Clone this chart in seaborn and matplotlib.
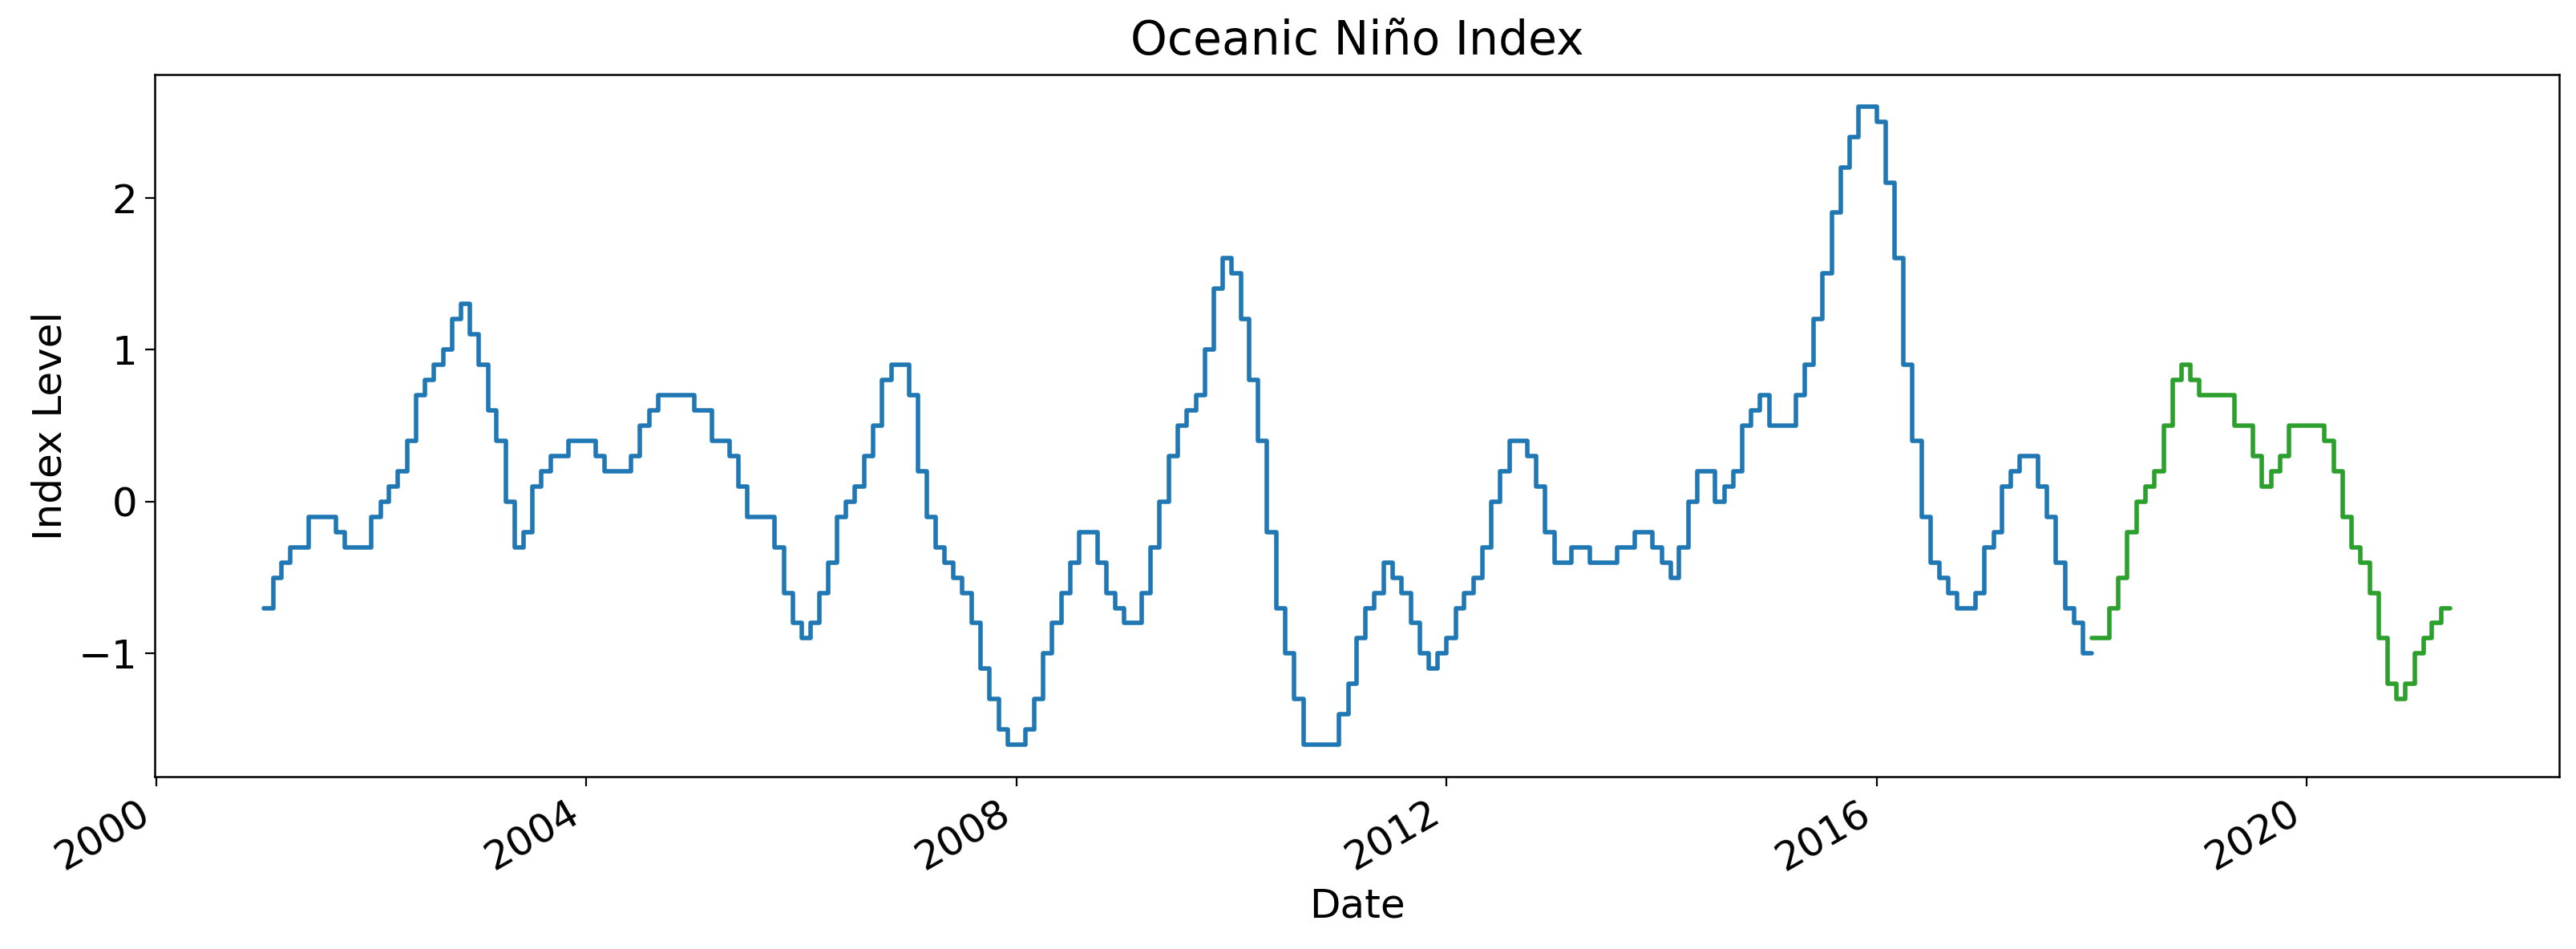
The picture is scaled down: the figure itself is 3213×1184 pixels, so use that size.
import matplotlib
matplotlib.use("Agg")
import matplotlib.pyplot as plt
import matplotlib.dates as mdates
from matplotlib.ticker import MultipleLocator
import pandas as pd
import seaborn as sns

# ---- data (monthly Oceanic Niño Index) ----
first_month = "2001-01-01"

oni_historical = [
    -0.7, -0.5, -0.4, -0.3, -0.3, -0.1, -0.1, -0.1, -0.2, -0.3, -0.3, -0.3,  # 2001
    -0.1, 0.0, 0.1, 0.2, 0.4, 0.7, 0.8, 0.9, 1.0, 1.2, 1.3, 1.1,            # 2002
    0.9, 0.6, 0.4, 0.0, -0.3, -0.2, 0.1, 0.2, 0.3, 0.3, 0.4, 0.4,           # 2003
    0.4, 0.3, 0.2, 0.2, 0.2, 0.3, 0.5, 0.6, 0.7, 0.7, 0.7, 0.7,             # 2004
    0.6, 0.6, 0.4, 0.4, 0.3, 0.1, -0.1, -0.1, -0.1, -0.3, -0.6, -0.8,       # 2005
    -0.9, -0.8, -0.6, -0.4, -0.1, 0.0, 0.1, 0.3, 0.5, 0.8, 0.9, 0.9,        # 2006
    0.7, 0.2, -0.1, -0.3, -0.4, -0.5, -0.6, -0.8, -1.1, -1.3, -1.5, -1.6,   # 2007
    -1.6, -1.5, -1.3, -1.0, -0.8, -0.6, -0.4, -0.2, -0.2, -0.4, -0.6, -0.7, # 2008
    -0.8, -0.8, -0.6, -0.3, 0.0, 0.3, 0.5, 0.6, 0.7, 1.0, 1.4, 1.6,         # 2009
    1.5, 1.2, 0.8, 0.4, -0.2, -0.7, -1.0, -1.3, -1.6, -1.6, -1.6, -1.6,     # 2010
    -1.4, -1.2, -0.9, -0.7, -0.6, -0.4, -0.5, -0.6, -0.8, -1.0, -1.1, -1.0, # 2011
    -0.9, -0.7, -0.6, -0.5, -0.3, 0.0, 0.2, 0.4, 0.4, 0.3, 0.1, -0.2,       # 2012
    -0.4, -0.4, -0.3, -0.3, -0.4, -0.4, -0.4, -0.3, -0.3, -0.2, -0.2, -0.3, # 2013
    -0.4, -0.5, -0.3, 0.0, 0.2, 0.2, 0.0, 0.1, 0.2, 0.5, 0.6, 0.7,          # 2014
    0.5, 0.5, 0.5, 0.7, 0.9, 1.2, 1.5, 1.9, 2.2, 2.4, 2.6, 2.6,             # 2015
    2.5, 2.1, 1.6, 0.9, 0.4, -0.1, -0.4, -0.5, -0.6, -0.7, -0.7, -0.6,      # 2016
    -0.3, -0.2, 0.1, 0.2, 0.3, 0.3, 0.1, -0.1, -0.4, -0.7, -0.8, -1.0,      # 2017
]

oni_recent = [
    -0.9, -0.9, -0.7, -0.5, -0.2, 0.0, 0.1, 0.2, 0.5, 0.8, 0.9, 0.8,        # 2018
    0.7, 0.7, 0.7, 0.7, 0.5, 0.5, 0.3, 0.1, 0.2, 0.3, 0.5, 0.5,             # 2019
    0.5, 0.5, 0.4, 0.2, -0.1, -0.3, -0.4, -0.6, -0.9, -1.2, -1.3, -1.2,     # 2020
    -1.0, -0.9, -0.8, -0.7,                                                 # 2021
]

title_text = "Oceanic Niño Index"
x_label = "Date"
y_label = "Index Level"
color_historical = "#1f77b4"
color_recent = "#2ca02c"

# ---- build frames (each step is held for its month) ----
n_hist = len(oni_historical)
n_rec = len(oni_recent)
dates = pd.date_range(first_month, periods=n_hist + n_rec + 1, freq="MS")

hist_df = pd.DataFrame({
    "Date": dates[: n_hist + 1],
    "Index Level": oni_historical + [oni_historical[-1]],
})
rec_df = pd.DataFrame({
    "Date": dates[n_hist:],
    "Index Level": oni_recent + [oni_recent[-1]],
})

# ---- style ----
sns.set_style("ticks")
plt.rcParams["font.family"] = ["DejaVu Sans"]
plt.rcParams.update({
    "axes.edgecolor": "black",
    "axes.linewidth": 0.9,
    "xtick.color": "black",
    "ytick.color": "black",
    "xtick.major.size": 4.3,
    "ytick.major.size": 4.3,
    "xtick.major.width": 0.8,
    "ytick.major.width": 0.8,
    "text.color": "black",
    "axes.labelcolor": "black",
})

DPI = 200
fig, ax = plt.subplots(figsize=(3213 / DPI, 1184 / DPI), dpi=DPI)

sns.lineplot(data=hist_df, x="Date", y="Index Level", ax=ax,
             drawstyle="steps-post", color=color_historical, linewidth=2.0)
sns.lineplot(data=rec_df, x="Date", y="Index Level", ax=ax,
             drawstyle="steps-post", color=color_recent, linewidth=2.0)

ax.xaxis.set_major_locator(mdates.YearLocator(4))
ax.xaxis.set_major_formatter(mdates.DateFormatter("%Y"))
ax.yaxis.set_major_locator(MultipleLocator(1))

ax.set_title(title_text, fontsize=21, pad=9)
ax.set_xlabel(x_label, fontsize=18)
ax.set_ylabel(y_label, fontsize=18)
ax.tick_params(axis="both", labelsize=18)

fig.autofmt_xdate(rotation=30, ha="right")
fig.subplots_adjust(left=0.0601, right=0.9935, top=0.9215, bottom=0.1816)

fig.savefig("out.png", dpi=DPI)
